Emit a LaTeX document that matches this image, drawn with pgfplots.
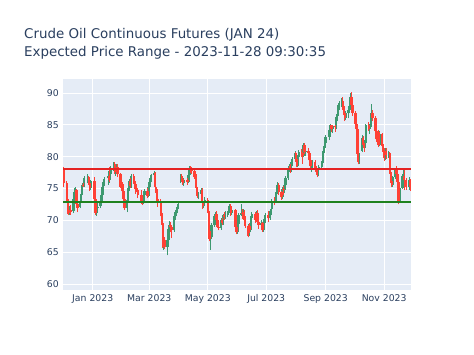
\documentclass[border=0pt]{standalone}
\usepackage{pgfplots}
\pgfplotsset{compat=1.18}
\usepackage{pgfplotstable}
\usepackage{fontspec}
\setmainfont{DejaVu Sans}
\definecolor{plotbg}{HTML}{E5ECF6}
\definecolor{fontc}{HTML}{2A3F5F}
\definecolor{incr}{HTML}{3D9970}
\definecolor{decr}{HTML}{FF4136}
\definecolor{hired}{RGB}{228,35,35}
\definecolor{higreen}{RGB}{30,130,30}

\pgfplotstableread{
d o h l c
-30 78.1 78.3 75.2 75.9
-27 75.8 76.2 72.9 73.3
-26 73.3 73.6 71.0 71.4
-25 71.4 72.0 70.8 71.2
-24 71.3 72.3 70.9 71.6
-23 71.6 72.4 70.9 71.3
-20 71.5 73.6 71.2 73.3
-19 73.3 75.0 72.9 74.5
-18 74.6 75.3 73.8 74.8
-17 74.8 74.9 72.2 72.6
-16 72.6 73.0 71.3 72.0
-13 72.1 73.4 71.9 73.1
-12 73.1 74.6 72.8 74.2
-11 74.3 75.8 74.0 75.6
-10 75.6 75.9 75.3 75.5
-9 75.6 77.0 75.2 76.6
-5 76.7 77.2 75.8 76.8
-4 76.8 77.0 75.5 75.9
-3 75.9 76.1 74.6 75.0
-2 75.0 76.4 74.7 76.1
2 76.2 76.8 73.0 73.4
3 73.4 73.6 70.9 71.2
4 71.2 72.6 70.7 72.0
5 72.0 72.9 71.3 72.1
8 72.2 73.9 71.9 73.1
9 73.1 74.3 72.8 73.9
10 73.9 75.4 73.5 75.2
11 75.2 76.3 74.9 76.0
12 76.0 76.8 75.4 76.5
16 76.6 77.8 75.6 76.9
17 76.9 78.3 76.0 76.3
18 76.3 77.6 75.9 77.3
19 77.3 78.5 76.9 78.2
22 78.2 79.2 77.8 78.8
23 78.8 79.1 77.3 77.6
24 77.6 78.6 77.0 78.3
25 78.3 78.9 77.5 78.4
26 78.4 78.8 76.8 77.2
29 77.2 77.4 75.0 75.3
30 75.3 76.2 74.6 75.7
31 75.7 76.0 74.1 74.6
32 74.6 74.9 72.9 73.4
33 73.4 73.8 71.6 72.0
36 72.0 73.6 71.3 73.2
37 73.2 75.4 72.9 75.1
38 75.1 76.5 74.6 76.1
39 76.1 76.7 75.0 75.4
40 75.4 77.2 75.1 76.9
43 76.9 77.3 75.7 76.2
44 76.2 76.5 74.9 75.3
45 75.3 75.7 74.2 75.0
46 75.0 75.7 74.4 74.8
47 74.8 74.9 73.5 73.9
51 73.9 74.7 72.6 73.0
52 73.0 73.3 72.4 72.8
53 72.8 74.2 72.5 73.9
54 73.9 74.9 73.6 74.6
57 74.6 75.0 73.5 73.8
58 73.8 75.5 73.6 75.2
59 75.2 76.3 74.9 76.0
60 76.0 76.9 75.3 76.6
61 76.6 77.3 76.0 77.1
64 77.1 77.8 76.6 77.4
65 77.4 77.6 74.9 75.2
66 75.2 75.6 74.3 74.9
67 74.9 75.2 73.0 73.3
68 73.3 73.9 72.1 73.0
71 73.0 73.4 70.6 71.2
72 71.2 71.5 69.3 69.6
73 69.6 69.8 65.7 66.4
74 66.4 67.5 65.4 66.9
75 66.9 67.4 65.5 65.8
78 65.8 67.3 64.5 66.9
79 66.9 68.9 66.6 68.6
80 68.6 69.9 68.2 69.3
81 69.3 69.8 68.1 68.9
82 68.9 69.0 67.2 68.4
85 68.4 71.0 68.2 70.6
86 70.6 71.6 70.0 71.3
87 71.3 72.0 70.6 71.6
88 71.6 72.4 71.1 72.1
89 72.1 73.0 71.7 72.6
92 76.2 77.3 75.9 76.9
93 76.9 77.2 76.0 76.5
94 76.5 77.0 75.6 75.9
95 75.9 76.6 75.4 76.3
99 76.3 76.6 75.6 76.0
100 76.0 77.4 75.9 77.1
101 77.1 78.5 76.8 78.2
102 78.2 78.6 77.4 77.9
103 77.9 78.4 77.2 77.7
106 77.7 78.0 76.5 76.8
107 76.8 77.5 76.2 77.0
108 77.0 77.2 74.6 75.0
109 75.0 75.3 73.5 73.8
110 73.8 74.5 73.3 74.1
113 74.1 75.1 73.7 74.8
114 74.8 75.0 72.6 72.9
115 72.9 73.1 71.8 72.3
116 72.3 73.1 71.9 72.8
117 72.8 73.6 72.2 73.2
120 73.2 73.5 71.1 71.4
121 71.4 71.6 67.9 68.3
122 68.3 68.6 66.7 67.1
123 67.1 67.8 65.4 67.3
124 67.3 69.6 67.0 69.3
127 69.3 70.9 69.0 70.6
128 70.6 71.3 70.2 71.0
129 71.0 71.5 69.6 70.0
130 70.0 70.3 68.8 69.0
131 69.0 69.6 68.4 68.8
134 68.8 70.3 68.5 70.0
135 70.0 70.3 69.2 69.6
136 69.6 71.0 69.3 70.8
137 70.8 71.3 70.1 70.5
138 70.5 71.4 70.2 70.9
141 70.9 71.5 70.5 71.1
142 71.1 72.3 70.9 72.0
143 72.0 72.6 71.5 72.3
144 72.3 72.5 70.7 71.1
145 71.1 71.9 70.8 71.6
149 71.6 71.8 68.7 69.0
150 69.0 69.3 67.8 68.2
151 68.2 69.7 67.9 69.4
152 69.4 71.2 69.1 70.9
155 70.9 72.6 70.6 71.1
156 71.1 71.8 70.2 71.0
157 71.0 71.7 70.4 71.3
158 71.3 71.6 69.6 70.0
159 70.0 70.6 68.8 69.1
162 69.1 69.3 67.3 67.5
163 67.5 69.4 67.3 69.1
164 69.1 69.6 68.0 68.4
165 68.4 70.7 68.1 70.4
166 70.4 71.3 70.1 71.0
170 71.0 71.3 69.6 70.0
171 70.0 71.4 69.8 71.2
172 71.2 71.6 69.4 69.7
173 69.7 70.0 68.7 69.3
176 69.3 70.0 68.9 69.6
177 69.6 69.8 68.2 68.4
178 68.4 69.9 68.2 69.6
179 69.6 70.5 69.3 70.2
180 70.2 71.1 69.9 70.8
183 70.8 71.5 69.7 70.3
185 70.3 71.6 70.1 71.4
186 71.4 72.0 70.8 71.8
187 71.8 73.4 71.6 73.1
190 73.1 73.6 72.4 72.9
191 72.9 74.4 72.7 74.2
192 74.2 75.5 73.9 75.2
193 75.2 76.0 74.8 75.6
194 75.6 75.8 74.0 74.4
197 74.4 74.6 73.2 73.6
198 73.6 75.2 73.3 74.9
199 74.9 75.4 74.0 74.7
200 74.7 75.9 74.3 75.6
201 75.6 76.9 75.3 76.6
204 76.6 78.3 76.4 78.0
205 78.0 78.9 77.6 78.5
206 78.5 78.8 77.4 77.9
207 77.9 79.4 77.6 79.1
208 79.1 80.0 78.6 79.7
211 79.7 80.9 79.3 80.6
212 80.6 80.8 79.2 79.6
213 79.6 79.9 78.3 78.6
214 78.6 80.2 78.3 79.9
215 79.9 81.0 79.5 80.7
218 80.7 81.2 80.0 80.5
219 80.5 80.7 78.9 80.1
220 80.1 82.2 79.9 81.8
221 81.8 82.1 80.4 80.8
222 80.8 81.3 80.1 80.9
225 80.9 81.3 79.8 80.5
226 80.5 80.7 79.1 79.4
227 79.4 79.7 78.2 78.5
228 78.5 79.2 77.6 78.8
229 78.8 79.5 78.2 79.2
232 79.2 79.4 77.7 78.1
233 78.1 78.6 77.2 77.6
234 77.6 77.9 76.8 77.1
235 77.1 78.4 76.9 78.0
236 78.0 78.7 77.4 78.4
239 78.4 79.3 78.1 79.0
240 79.0 80.9 78.8 80.6
241 80.6 81.7 80.3 81.4
242 81.4 82.4 81.0 82.1
243 82.1 83.4 81.8 83.1
247 83.1 84.6 82.6 84.2
248 84.2 85.1 83.6 84.9
249 84.9 85.0 83.8 84.3
250 84.3 85.0 83.7 84.8
253 84.8 85.0 83.9 84.6
254 84.6 86.5 84.3 86.2
255 86.2 87.0 85.6 86.7
256 86.7 88.4 86.4 88.1
257 88.1 88.7 87.3 88.3
260 88.3 89.2 87.8 88.8
261 88.8 89.4 87.4 87.9
262 87.9 88.5 86.5 86.9
263 86.9 87.2 85.6 86.0
264 86.0 87.2 85.7 86.8
267 86.8 87.6 86.0 87.4
268 87.4 88.3 86.8 88.0
269 88.0 90.0 87.8 89.4
270 89.4 90.2 87.6 88.1
271 88.1 88.5 86.4 86.9
274 86.9 87.1 84.6 85.1
275 85.1 85.6 84.0 84.4
276 84.4 84.6 80.0 80.4
277 80.4 80.8 78.8 79.2
278 79.2 80.6 78.9 80.1
281 80.9 83.4 80.7 83.0
282 83.0 83.2 81.3 81.8
283 81.8 82.1 80.8 81.4
284 81.4 82.6 81.0 82.2
285 82.2 85.2 82.0 84.9
288 84.9 85.5 84.0 84.3
289 84.3 85.1 83.6 84.7
290 84.7 86.9 84.4 86.6
291 86.6 88.2 85.9 86.8
292 86.8 87.3 85.6 86.1
295 86.1 86.4 83.6 84.0
296 84.0 84.5 82.3 82.7
297 82.7 84.1 82.3 83.8
298 83.8 84.2 81.5 81.9
299 81.9 84.0 81.6 83.6
302 83.6 83.7 81.2 81.6
303 81.6 82.0 80.4 80.8
304 80.8 81.4 79.3 79.8
305 79.8 81.3 79.5 80.9
306 80.9 81.4 79.7 80.2
309 80.2 80.9 79.8 80.5
310 80.5 80.7 77.3 77.6
311 77.6 78.0 75.8 76.1
312 76.1 76.8 75.2 75.6
313 75.6 77.0 75.3 76.8
316 76.8 78.2 76.5 77.9
317 77.9 78.6 76.9 77.3
318 77.3 77.8 75.7 76.0
319 76.0 76.3 72.5 73.0
320 73.0 75.4 72.8 75.1
323 75.1 77.2 74.9 76.9
324 76.9 78.0 76.3 77.0
325 77.0 78.2 74.7 76.4
327 76.4 76.6 74.8 75.2
330 75.2 76.8 74.8 76.3
331 76.3 76.5 74.6 75.2
}\ohlc

\begin{document}
\begin{tikzpicture}
\path[fill=white, use as bounding box] (0,0) rectangle (474bp,355bp);
\node[anchor=base west, font=\fontsize{13.4bp}{15bp}\selectfont, text=fontc, inner sep=0pt] at (24bp,316.5bp) {Crude Oil Continuous Futures (JAN 24)};
\node[anchor=base west, font=\fontsize{13.4bp}{15bp}\selectfont, text=fontc, inner sep=0pt] at (24bp,298.5bp) {Expected Price Range - 2023-11-28 09:30:35};
\begin{axis}[
  at={(63bp,65bp)}, anchor=south west,
  scale only axis, width=348bp, height=211bp,
  xmin=-31, xmax=332, ymin=59.05, ymax=92.2,
  axis background/.style={fill=plotbg},
  axis line style={draw=none},
  major tick style={draw=none},
  grid=major,
  major grid style={white, line width=0.8bp},
  xtick={0,59,120,181,243,304},
  xticklabels={Jan 2023,Mar 2023,May 2023,Jul 2023,Sep 2023,Nov 2023},
  ytick={60,65,70,75,80,85,90},
  /pgf/number format/assume math mode=true,
  tick label style={font=\fontsize{9.3bp}{11bp}\selectfont, text=fontc},
  xticklabel style={anchor=north, inner sep=0pt, yshift=-4bp},
  yticklabel style={anchor=east, inner sep=0pt, xshift=-4bp},
  clip=true,
  candle/.style={draw=none, mark=none, forget plot,
    error bars/y dir=plus, error bars/y explicit, error bars/error mark=none},
]
% increasing wicks and bodies
\addplot[candle, restrict expr to domain={\thisrow{c}-\thisrow{o}}{0:100},
  error bars/error bar style={draw=incr, line width=1bp}]
  table[x=d, y=l, y error expr=\thisrow{h}-\thisrow{l}] {\ohlc};
\addplot[candle, restrict expr to domain={\thisrow{c}-\thisrow{o}}{0:100},
  error bars/error bar style={draw=incr, line width=2.4bp}]
  table[x=d, y=o, y error expr=\thisrow{c}-\thisrow{o}] {\ohlc};
% decreasing wicks and bodies
\addplot[candle, restrict expr to domain={\thisrow{c}-\thisrow{o}}{-100:0},
  error bars/error bar style={draw=decr, line width=1bp}]
  table[x=d, y=l, y error expr=\thisrow{h}-\thisrow{l}] {\ohlc};
\addplot[candle, restrict expr to domain={\thisrow{c}-\thisrow{o}}{-100:0},
  error bars/error bar style={draw=decr, line width=2.4bp}]
  table[x=d, y=c, y error expr=\thisrow{o}-\thisrow{c}] {\ohlc};
% expected range lines
\addplot[hired, line width=1.6bp] coordinates {(-31,78.1) (332,78.1)};
\addplot[higreen, line width=1.6bp] coordinates {(-31,72.85) (332,72.85)};
\end{axis}
\end{tikzpicture}
\end{document}
